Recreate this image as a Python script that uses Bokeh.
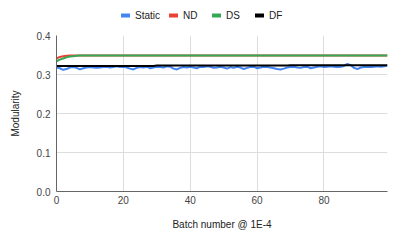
from bokeh.plotting import figure
from bokeh.layouts import column
from bokeh.models import Range1d, FixedTicker, Legend, LegendItem, NumeralTickFormatter
from bokeh.embed import file_html
from bokeh.resources import INLINE

batch = list(range(100))
static = [0.318, 0.316, 0.312, 0.314, 0.318, 0.319, 0.317, 0.313, 0.316, 0.318,
          0.319, 0.318, 0.317, 0.318, 0.319, 0.320, 0.318, 0.319, 0.321, 0.319,
          0.320, 0.318, 0.315, 0.313, 0.317, 0.319, 0.318, 0.320, 0.316, 0.318,
          0.320, 0.319, 0.318, 0.321, 0.320, 0.315, 0.313, 0.317, 0.319, 0.318,
          0.320, 0.318, 0.316, 0.320, 0.319, 0.321, 0.320, 0.317, 0.318, 0.320,
          0.318, 0.315, 0.319, 0.317, 0.320, 0.318, 0.314, 0.317, 0.319, 0.320,
          0.316, 0.318, 0.320, 0.319, 0.318, 0.316, 0.314, 0.313, 0.315, 0.318,
          0.319, 0.320, 0.318, 0.317, 0.319, 0.320, 0.316, 0.318, 0.320, 0.321,
          0.319, 0.320, 0.321, 0.320, 0.319, 0.320, 0.322, 0.327, 0.324, 0.317,
          0.314, 0.318, 0.319, 0.320, 0.319, 0.320, 0.321, 0.320, 0.321, 0.323]
nd = [0.341, 0.345, 0.347, 0.348, 0.349] + [0.349] * 95
ds = [0.334, 0.338, 0.341, 0.344, 0.346, 0.347, 0.348, 0.349] + [0.349] * 92
df = [0.322] * 30 + [0.323] * 40 + [0.324] * 30

series_names = ["Static", "ND", "DS", "DF"]
series_values = [static, nd, ds, df]
series_colors = ["#4285F4", "#EA4335", "#34A853", "#000000"]
x_ticks = [0, 20, 40, 60, 80]
y_ticks = [0.0, 0.1, 0.2, 0.3, 0.4]

p = figure(width=391, height=209, output_backend="svg", toolbar_location=None,
           x_range=Range1d(0, 99), y_range=Range1d(0, 0.4),
           min_border_left=56, min_border_right=4, min_border_top=7, min_border_bottom=46)
p.outline_line_color = None

for ys, c in zip(series_values, series_colors):
    p.line(batch, ys, line_color=c, line_width=2)

p.xaxis.ticker = FixedTicker(ticks=x_ticks)
p.yaxis.ticker = FixedTicker(ticks=y_ticks)
p.yaxis.formatter = NumeralTickFormatter(format="0.0")
for ax in (p.xaxis[0], p.yaxis[0]):
    ax.major_tick_line_color = None
    ax.minor_tick_line_color = None
    ax.major_tick_out = 0
    ax.major_tick_in = 0
    ax.minor_tick_out = 0
    ax.minor_tick_in = 0
    ax.axis_line_color = "#666666"
    ax.axis_line_width = 1
    ax.major_label_text_font = "Liberation Sans"
    ax.major_label_text_font_size = "10px"
    ax.major_label_text_color = "#444444"
    ax.axis_label_text_font = "Liberation Sans"
    ax.axis_label_text_font_size = "10px"
    ax.axis_label_text_font_style = "normal"
    ax.axis_label_text_color = "#222222"
p.xaxis.axis_label = "Batch number @ 1E-4"
p.yaxis.axis_label = "Modularity"
p.xaxis.major_label_standoff = 4
p.xaxis.axis_label_standoff = 12
p.yaxis.major_label_standoff = 6
p.yaxis.axis_label_standoff = 13
p.xgrid.grid_line_color = "#dddddd"
p.ygrid.grid_line_color = "#dddddd"

# legend strip (its lines lie outside its visible range; only the legend shows)
lg = figure(width=391, height=28, output_backend="svg", toolbar_location=None,
            x_range=Range1d(1000, 1001), y_range=Range1d(0, 1),
            x_axis_location=None, y_axis_location=None,
            min_border_left=0, min_border_right=0, min_border_top=0, min_border_bottom=0)
lg.grid.visible = False
lg.outline_line_color = None
items = []
for name, ys, c in zip(series_names, series_values, series_colors):
    r = lg.line(batch, ys, line_color=c, line_width=4, line_cap="round")
    items.append(LegendItem(label=name, renderers=[r]))
legend = Legend(items=items, orientation="horizontal", location=(65, 7),
                label_text_font="Liberation Sans", label_text_font_size="10px",
                label_text_color="#222222", glyph_width=9, glyph_height=12,
                label_height=12, label_standoff=5, spacing=9, padding=0,
                margin=0, border_line_color=None, background_fill_alpha=0)
lg.add_layout(legend, "center")

layout = column(lg, p, spacing=0)
open("out.html", "w").write(file_html(layout, INLINE))
